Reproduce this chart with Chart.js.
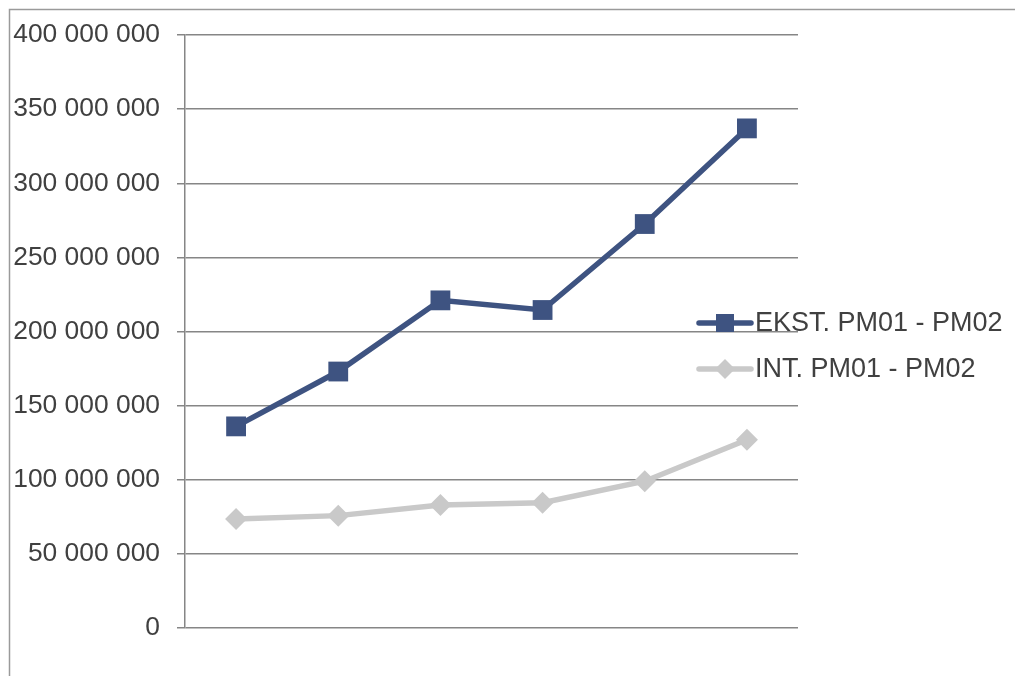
<!DOCTYPE html>
<html>
<head>
<meta charset="utf-8">
<script src="https://cdn.jsdelivr.net/npm/chart.js@4"></script>
<style>
  html, body { margin: 0; padding: 0; background: #fff; }
  #wrap { width: 1015px; height: 676px; position: relative; }
</style>
</head>
<body>
<div id="wrap"><canvas id="c" width="1015" height="676"></canvas></div>
<script>
const categories = ['1', '2', '3', '4', '5', '6'];
const seriesNames = ['EKST. PM01 - PM02', 'INT. PM01 - PM02'];
const ekstValues = [136000000, 173000000, 221000000, 214500000, 272500000, 337000000];
const intValues = [73500000, 75800000, 83000000, 84500000, 99000000, 127000000];
const yTicks = [0, 50000000, 100000000, 150000000, 200000000, 250000000, 300000000, 350000000, 400000000];

const FONT = '"Liberation Sans", Arial, sans-serif';
const TEXT = '#404040';
const GRID = '#868686';

function fmt(v) {
  return String(Math.round(v)).replace(/\B(?=(\d{3})+(?!\d))/g, ' ');
}

const framePlugin = {
  id: 'frame',
  beforeDraw(chart) {
    const ctx = chart.ctx;
    ctx.save();
    ctx.strokeStyle = '#9a9a9a';
    ctx.lineWidth = 1.5;
    ctx.beginPath();
    ctx.moveTo(9.5, 676);
    ctx.lineTo(9.5, 9.5);
    ctx.lineTo(1015, 9.5);
    ctx.stroke();
    ctx.restore();
  }
};

const legendPlugin = {
  id: 'customLegend',
  afterDraw(chart) {
    const ctx = chart.ctx;
    const ys = [323, 369];
    chart.data.datasets.forEach((ds, i) => {
      const y = ys[i];
      ctx.save();
      ctx.strokeStyle = ds.borderColor;
      ctx.lineWidth = ds.borderWidth;
      ctx.lineCap = 'round';
      ctx.beginPath();
      ctx.moveTo(699, y);
      ctx.lineTo(751, y);
      ctx.stroke();
      ctx.fillStyle = ds.pointBackgroundColor;
      ctx.beginPath();
      if (ds.pointStyle === 'rect') {
        ctx.rect(725 - 9, y - 9, 18, 18);
      } else {
        ctx.moveTo(725, y - 10); ctx.lineTo(735, y); ctx.lineTo(725, y + 10); ctx.lineTo(715, y); ctx.closePath();
      }
      ctx.fill();
      ctx.fillStyle = TEXT;
      ctx.font = '27px ' + FONT;
      ctx.textBaseline = 'middle';
      ctx.textAlign = 'left';
      ctx.fillText(ds.label, 755, y + 1);
      ctx.restore();
    });
  }
};

new Chart(document.getElementById('c'), {
  type: 'line',
  data: {
    labels: categories,
    datasets: [
      {
        label: seriesNames[0],
        data: ekstValues,
        borderColor: '#3E5381',
        backgroundColor: '#3E5381',
        pointBackgroundColor: '#3E5381',
        pointBorderColor: '#3E5381',
        borderWidth: 5.5,
        pointStyle: 'rect',
        pointRadius: 14,
        pointBorderWidth: 0,
        tension: 0
      },
      {
        label: seriesNames[1],
        data: intValues,
        borderColor: '#C9C9C9',
        backgroundColor: '#C9C9C9',
        pointBackgroundColor: '#C9C9C9',
        pointBorderColor: '#C9C9C9',
        borderWidth: 5.5,
        pointStyle: 'rectRot',
        pointRadius: 11,
        pointBorderWidth: 0,
        tension: 0
      }
    ]
  },
  options: {
    responsive: false,
    animation: false,
    devicePixelRatio: 1,
    layout: { padding: { left: 10, top: 35, right: 217, bottom: 0 } },
    plugins: {
      legend: { display: false },
      tooltip: { enabled: false },
      title: { display: false }
    },
    scales: {
      x: {
        type: 'category',
        offset: true,
        grid: { display: false },
        border: { display: false },
        ticks: { display: false },
        afterFit(scale) { scale.height = 48; }
      },
      y: {
        min: 0,
        max: 400000000,
        afterBuildTicks(scale) { scale.ticks = yTicks.map(v => ({ value: v })); },
        ticks: {
          callback: (v) => fmt(v),
          color: TEXT,
          font: { family: FONT, size: 26.4 },
          padding: 17
        },
        grid: {
          color: GRID,
          lineWidth: 1.5,
          drawTicks: true,
          tickLength: 8,
          tickColor: GRID
        },
        border: { display: true, color: GRID, width: 1.5 },
        afterFit(scale) { scale.width = 175; }
      }
    }
  },
  plugins: [framePlugin, legendPlugin]
});
</script>
</body>
</html>
